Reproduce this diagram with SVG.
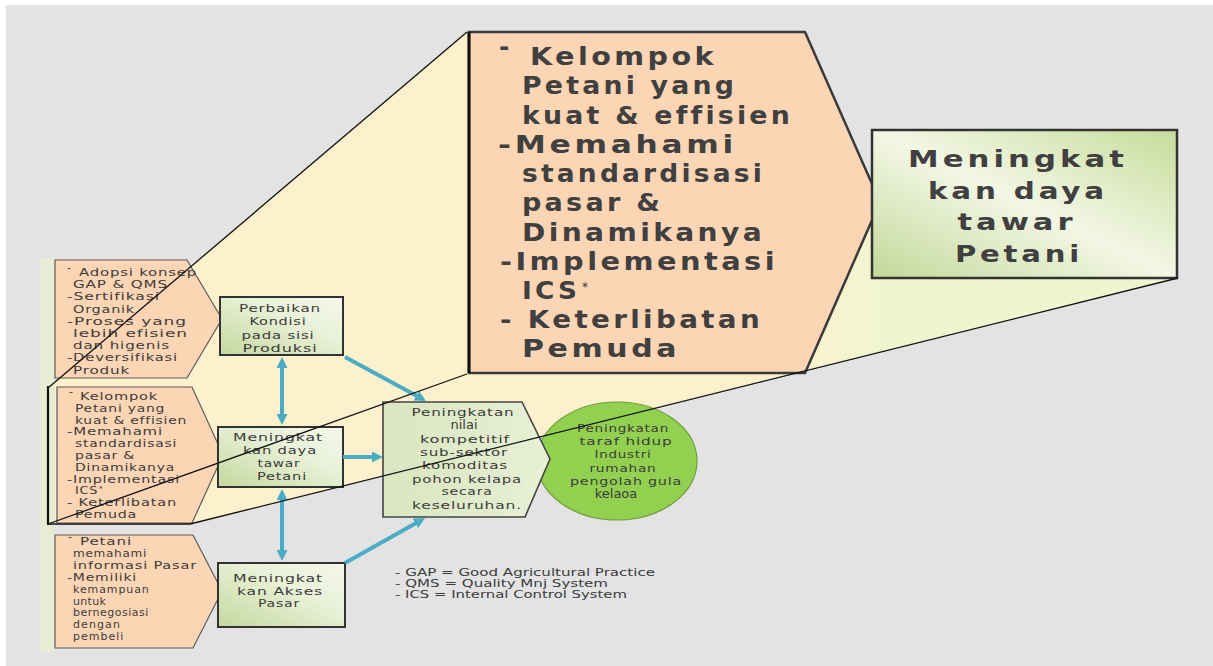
<svg xmlns="http://www.w3.org/2000/svg" width="1213" height="666" viewBox="0 0 1213 666">
<style>
.t{font-family:"DejaVu Sans","Liberation Sans",sans-serif;fill:#3c3c3c}
.s{font-size:11px;letter-spacing:0.6px}
.m{font-size:13px;letter-spacing:0px}
.b{font-size:25px;font-weight:bold;fill:#404040;letter-spacing:3px}
.g{font-size:23px;font-weight:bold;fill:#404040;letter-spacing:3px}
.c{text-anchor:middle}
.orange{fill:#fcd5b5;stroke:#5a5a5a;stroke-width:1.2}
.gbox{fill:url(#gg);stroke:#333;stroke-width:2}
.arr{stroke:#4bacc6;stroke-width:4;fill:none}
.cl{stroke:#111;stroke-width:1.3;fill:none}
</style>
<defs>
<linearGradient id="gg" x1="0" y1="1" x2="1" y2="0">
<stop offset="0" stop-color="#c4d89e"/>
<stop offset="0.6" stop-color="#e9f1d8"/>
<stop offset="1" stop-color="#f4f8ea"/>
</linearGradient>
<linearGradient id="gbig" x1="0" y1="1" x2="1" y2="0">
<stop offset="0" stop-color="#c2d899"/>
<stop offset="0.5" stop-color="#f3f7e5"/>
<stop offset="1" stop-color="#c6dc9a"/>
</linearGradient>
<linearGradient id="gp" x1="0" y1="0" x2="1" y2="0">
<stop offset="0" stop-color="#d9e6bf"/>
<stop offset="1" stop-color="#e8f0d6"/>
</linearGradient>
<linearGradient id="cf" gradientUnits="userSpaceOnUse" x1="790" y1="0" x2="890" y2="0">
<stop offset="0" stop-color="#fdf1cd"/>
<stop offset="1" stop-color="#eef6cf"/>
</linearGradient>
<marker id="ah" markerUnits="userSpaceOnUse" markerWidth="11" markerHeight="11" refX="7" refY="5.5" orient="auto-start-reverse">
<path d="M0,0 L11,5.5 L0,11 z" fill="#4bacc6"/>
</marker>
</defs>
<rect width="1213" height="666" fill="#ffffff"/>
<rect x="6" y="5" width="1207" height="661" fill="#e3e3e3"/>
<g id="callout-fill">
<polygon points="48,388 467,32 805,32 880,202 872,278 1178,278 190,524 48,524" fill="url(#cf)"/>
<rect x="40" y="258" width="15" height="394" fill="#e6edd4"/>
</g>

<g id="orange1">
<polygon class="orange" points="55,260 187,260 222,319 187,378 55,378"/>
<text class="t s" x="67" y="271">-</text>
<text class="t s" x="79" y="276" textLength="118" lengthAdjust="spacingAndGlyphs">Adopsi konsep</text>
<text class="t s" x="73" y="288.2" textLength="95" lengthAdjust="spacingAndGlyphs">GAP &amp; QMS</text>
<text class="t s" x="67" y="300.4" textLength="93" lengthAdjust="spacingAndGlyphs">-Sertifikasi</text>
<text class="t s" x="73" y="312.6" textLength="62" lengthAdjust="spacingAndGlyphs">Organik</text>
<text class="t s" x="67" y="324.8" textLength="120" lengthAdjust="spacingAndGlyphs">-Proses yang</text>
<text class="t s" x="73" y="337" textLength="115" lengthAdjust="spacingAndGlyphs">lebih efisien</text>
<text class="t s" x="73" y="349.2" textLength="97" lengthAdjust="spacingAndGlyphs">dan higenis</text>
<text class="t s" x="67" y="361.4" textLength="111" lengthAdjust="spacingAndGlyphs">-Deversifikasi</text>
<text class="t s" x="73" y="373.6" textLength="57" lengthAdjust="spacingAndGlyphs">Produk</text>
</g>

<g id="orange2">
<polygon class="orange" points="57,387 192,387 223,455 192,523 57,523"/>
<text class="t s" x="69" y="395">-</text>
<text class="t s" x="80" y="400" textLength="78" lengthAdjust="spacingAndGlyphs">Kelompok</text>
<text class="t s" x="75" y="411.8" textLength="90" lengthAdjust="spacingAndGlyphs">Petani yang</text>
<text class="t s" x="75" y="423.6" textLength="112" lengthAdjust="spacingAndGlyphs">kuat &amp; effisien</text>
<text class="t s" x="67" y="435.4" textLength="96" lengthAdjust="spacingAndGlyphs">-Memahami</text>
<text class="t s" x="75" y="447.2" textLength="102" lengthAdjust="spacingAndGlyphs">standardisasi</text>
<text class="t s" x="75" y="459" textLength="60" lengthAdjust="spacingAndGlyphs">pasar &amp;</text>
<text class="t s" x="75" y="470.8" textLength="100" lengthAdjust="spacingAndGlyphs">Dinamikanya</text>
<text class="t s" x="67" y="482.6" textLength="113" lengthAdjust="spacingAndGlyphs">-Implementasi</text>
<text class="t s" x="75" y="494.4" textLength="23" lengthAdjust="spacingAndGlyphs">ICS</text>
<text class="t" x="99" y="491" font-size="7">*</text>
<text class="t s" x="67" y="506.2" textLength="110" lengthAdjust="spacingAndGlyphs">- Keterlibatan</text>
<text class="t s" x="75" y="518" textLength="62" lengthAdjust="spacingAndGlyphs">Pemuda</text>
</g>

<g id="orange3">
<polygon class="orange" points="55,535 193,535 222,591 193,648 55,648"/>
<text class="t s" x="68" y="540">-</text>
<text class="t s" x="80" y="545" textLength="52" lengthAdjust="spacingAndGlyphs">Petani</text>
<text class="t s" x="73" y="556.9" textLength="74" lengthAdjust="spacingAndGlyphs">memahami</text>
<text class="t s" x="73" y="568.8" textLength="124" lengthAdjust="spacingAndGlyphs">informasi Pasar</text>
<text class="t s" x="67" y="580.7" textLength="70" lengthAdjust="spacingAndGlyphs">-Memiliki</text>
<text class="t s" x="73" y="592.6" style="letter-spacing:0.9px">kemampuan</text>
<text class="t s" x="73" y="604.5" style="letter-spacing:0.3px">untuk</text>
<text class="t s" x="73" y="616.4" style="letter-spacing:0.5px">bernegosiasi</text>
<text class="t s" x="73" y="628.3" style="letter-spacing:1.1px">dengan</text>
<text class="t s" x="73" y="640.2" style="letter-spacing:1px">pembeli</text>
</g>

<g id="green1">
<rect class="gbox" x="220" y="297" width="123" height="58"/>
<text class="t s c" x="280" y="312" textLength="82" lengthAdjust="spacingAndGlyphs">Perbaikan</text>
<text class="t s c" x="278" y="325.3" textLength="57" lengthAdjust="spacingAndGlyphs">Kondisi</text>
<text class="t s c" x="278" y="338.6" textLength="73" lengthAdjust="spacingAndGlyphs">pada sisi</text>
<text class="t s c" x="280" y="352" textLength="75" lengthAdjust="spacingAndGlyphs">Produksi</text>
</g>

<g id="green2">
<rect class="gbox" x="218" y="427" width="125" height="60"/>
<text class="t s c" x="278" y="441" textLength="90" lengthAdjust="spacingAndGlyphs">Meningkat</text>
<text class="t s c" x="280" y="454" textLength="74" lengthAdjust="spacingAndGlyphs">kan daya</text>
<text class="t s c" x="279" y="467" textLength="43" lengthAdjust="spacingAndGlyphs">tawar</text>
<text class="t s c" x="282" y="480" textLength="50" lengthAdjust="spacingAndGlyphs">Petani</text>
</g>

<g id="green3">
<rect class="gbox" x="218" y="563" width="127" height="64"/>
<text class="t s c" x="278" y="582" textLength="90" lengthAdjust="spacingAndGlyphs">Meningkat</text>
<text class="t s c" x="280" y="594.5" textLength="86" lengthAdjust="spacingAndGlyphs">kan Akses</text>
<text class="t s c" x="279" y="607" textLength="42" lengthAdjust="spacingAndGlyphs">Pasar</text>
</g>

<g id="outcome">
<ellipse cx="617" cy="461" rx="80" ry="59" fill="#92d050" stroke="#6f9f3a" stroke-width="1.2"/>
<text class="t s c" x="623" y="432" textLength="92" lengthAdjust="spacingAndGlyphs">Peningkatan</text>
<text class="t s c" x="626" y="445" textLength="93" lengthAdjust="spacingAndGlyphs">taraf hidup</text>
<text class="t s c" x="623" y="458" textLength="57" lengthAdjust="spacingAndGlyphs">Industri</text>
<text class="t s c" x="623" y="472" textLength="67" lengthAdjust="spacingAndGlyphs">rumahan</text>
<text class="t s c" x="626" y="485" textLength="112" lengthAdjust="spacingAndGlyphs">pengolah gula</text>
<text class="t m c" x="616" y="498">kelaoa</text>
</g>

<g id="competitive">
<polygon points="383,402 522,402 550,459 525,517 383,517" fill="url(#gp)" stroke="#444" stroke-width="1.6"/>
<text class="t s c" x="463" y="416" textLength="103" lengthAdjust="spacingAndGlyphs">Peningkatan</text>
<text class="t m c" x="464" y="429">nilai</text>
<text class="t s c" x="465" y="443" textLength="90" lengthAdjust="spacingAndGlyphs">kompetitif</text>
<text class="t s c" x="464" y="456" textLength="88" lengthAdjust="spacingAndGlyphs">sub-sektor</text>
<text class="t s c" x="465" y="469" textLength="86" lengthAdjust="spacingAndGlyphs">komoditas</text>
<text class="t s c" x="467" y="483" textLength="110" lengthAdjust="spacingAndGlyphs">pohon kelapa</text>
<text class="t s c" x="467" y="495" textLength="51" lengthAdjust="spacingAndGlyphs">secara</text>
<text class="t s c" x="467" y="509" textLength="110" lengthAdjust="spacingAndGlyphs">keseluruhan.</text>
</g>

<g id="legend">
<text class="t" font-size="10.5" x="395" y="576" textLength="260" lengthAdjust="spacingAndGlyphs">- GAP = Good Agricultural Practice</text>
<text class="t" font-size="10.5" x="395" y="587" textLength="213" lengthAdjust="spacingAndGlyphs">- QMS = Quality Mnj System</text>
<text class="t" font-size="10.5" x="395" y="597.5" textLength="232" lengthAdjust="spacingAndGlyphs">- ICS = Internal Control System</text>
</g>

<g id="zoom-orange">
<polygon points="469,32 805,32 880,202 805,373 469,373" fill="#fcd5b5" stroke="#3a3a3a" stroke-width="2.5"/>
<line x1="469" y1="32" x2="469" y2="373" stroke="#111" stroke-width="3"/>
<text class="t b" x="499" y="55">-</text>
<text class="t b" x="530" y="65" textLength="187" lengthAdjust="spacingAndGlyphs">Kelompok</text>
<text class="t b" x="522" y="94" textLength="215" lengthAdjust="spacingAndGlyphs">Petani yang</text>
<text class="t b" x="522" y="123.5" textLength="271" lengthAdjust="spacingAndGlyphs">kuat &amp; effisien</text>
<text class="t b" x="498" y="152.5" textLength="239" lengthAdjust="spacingAndGlyphs">-Memahami</text>
<text class="t b" x="522" y="182" textLength="243" lengthAdjust="spacingAndGlyphs">standardisasi</text>
<text class="t b" x="522" y="211" textLength="141" lengthAdjust="spacingAndGlyphs">pasar &amp;</text>
<text class="t b" x="522" y="240.5" textLength="243" lengthAdjust="spacingAndGlyphs">Dinamikanya</text>
<text class="t b" x="500" y="269.5" textLength="278" lengthAdjust="spacingAndGlyphs">-Implementasi</text>
<text class="t b" x="522" y="298.5" textLength="58" lengthAdjust="spacingAndGlyphs">ICS</text>
<text class="t" x="582" y="291" font-size="12">*</text>
<text class="t b" x="500" y="328" textLength="263" lengthAdjust="spacingAndGlyphs">- Keterlibatan</text>
<text class="t b" x="522" y="357" textLength="158" lengthAdjust="spacingAndGlyphs">Pemuda</text>
</g>

<g id="zoom-green">
<rect x="872" y="130" width="305" height="148" fill="url(#gbig)" stroke="#333" stroke-width="2.5"/>
<text class="t g c" x="1018" y="167" textLength="220" lengthAdjust="spacingAndGlyphs">Meningkat</text>
<text class="t g c" x="1018" y="198.5" textLength="180" lengthAdjust="spacingAndGlyphs">kan daya</text>
<text class="t g c" x="1017" y="230" textLength="119" lengthAdjust="spacingAndGlyphs">tawar</text>
<text class="t g c" x="1019" y="262" textLength="128" lengthAdjust="spacingAndGlyphs">Petani</text>
</g>

<g id="connectors">
<line class="arr" x1="282" y1="361" x2="282" y2="421" marker-start="url(#ah)" marker-end="url(#ah)"/>
<line class="arr" x1="282" y1="493" x2="282" y2="557" marker-start="url(#ah)" marker-end="url(#ah)"/>
<line class="arr" x1="345" y1="357" x2="422.5" y2="399.1" marker-end="url(#ah)"/>
<line class="arr" x1="343" y1="457" x2="379" y2="457" marker-end="url(#ah)"/>
<line class="arr" x1="345" y1="563" x2="421.5" y2="520" marker-end="url(#ah)"/>
</g>

<g id="callout-lines">
<line class="cl" x1="48" y1="388" x2="467" y2="32"/>
<line class="cl" x1="48" y1="524" x2="467" y2="374"/>
<line class="cl" x1="190" y1="524" x2="1178" y2="278"/>
<line x1="48" y1="386" x2="48" y2="525" stroke="#111" stroke-width="2.2"/>
<line class="cl" x1="48" y1="524" x2="190" y2="524"/>
</g>
</svg>
